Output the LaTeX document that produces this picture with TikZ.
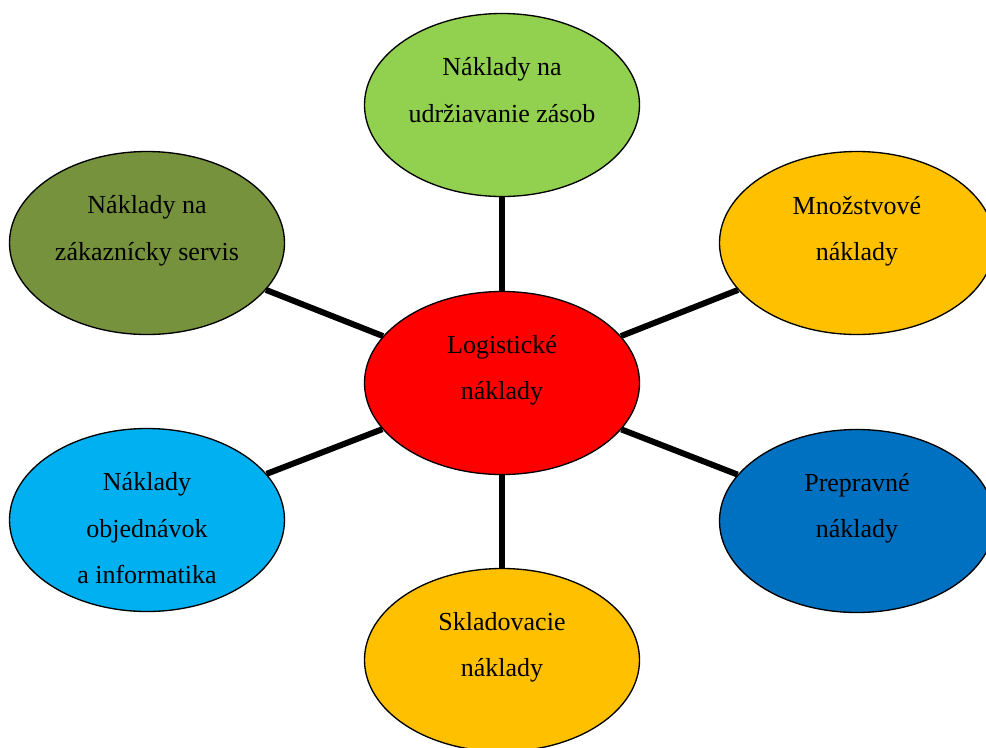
\documentclass[tikz,border=0pt]{standalone}
\usepackage{fontspec}
\setmainfont{Liberation Serif}
\usetikzlibrary{shapes.geometric}
\definecolor{cred}{HTML}{FF0000}
\definecolor{cgreen}{HTML}{92D050}
\definecolor{colive}{HTML}{76923C}
\definecolor{corange}{HTML}{FFC000}
\definecolor{cblue}{HTML}{0070C0}
\definecolor{clightblue}{HTML}{00B0F0}
\tikzset{
  bubble/.style={ellipse, draw=black, line width=1pt, inner sep=0pt,
    minimum width=206.25pt, minimum height=137.25pt},
  lbl/.style={align=center, inner sep=0pt,
    font=\fontsize{19.5}{34.8}\selectfont},
  conn/.style={line width=4.5pt, black}
}
\begin{document}
\begin{tikzpicture}[x=0.75pt, y=-0.75pt]
\clip (0,0) rectangle (986,747);
\fill[white] (0,0) rectangle (986,747);
\node[bubble, fill=cred] (c) at (502,383) {};
\node[bubble, fill=cgreen] (t) at (502,105) {};
\node[bubble, fill=colive] (tl) at (147,243) {};
\node[bubble, fill=corange] (tr) at (857,243) {};
\node[bubble, fill=clightblue] (bl) at (147,520) {};
\node[bubble, fill=cblue] (br) at (857,521) {};
\node[bubble, fill=corange] (b) at (502,660) {};
\draw[conn] (c) -- (t);
\draw[conn] (c) -- (tl);
\draw[conn] (c) -- (tr);
\draw[conn] (c) -- (bl);
\draw[conn] (c) -- (br);
\draw[conn] (c) -- (b);
\node[lbl] (lc) at ([yshift=12pt]c.center) {\strut Logistické\\\strut náklady};
\node[lbl] (lt) at ([yshift=11.6pt]t.center) {\strut Náklady na\\\strut udržiavanie zásob};
\node[lbl] (ltl) at ([yshift=11.6pt]tl.center) {\strut Náklady na\\\strut zákaznícky servis};
\node[lbl] (ltr) at ([yshift=11pt]tr.center) {\strut Množstvové\\\strut náklady};
\node[lbl] (lbl1) at ([yshift=-6pt]bl.center) {\strut Náklady\\\strut objednávok\\\strut a informatika};
\node[lbl] (lbr) at ([yshift=12pt]br.center) {\strut Prepravné\\\strut náklady};
\node[lbl] (lb) at ([yshift=12pt]b.center) {\strut Skladovacie\\\strut náklady};
\end{tikzpicture}
\end{document}
